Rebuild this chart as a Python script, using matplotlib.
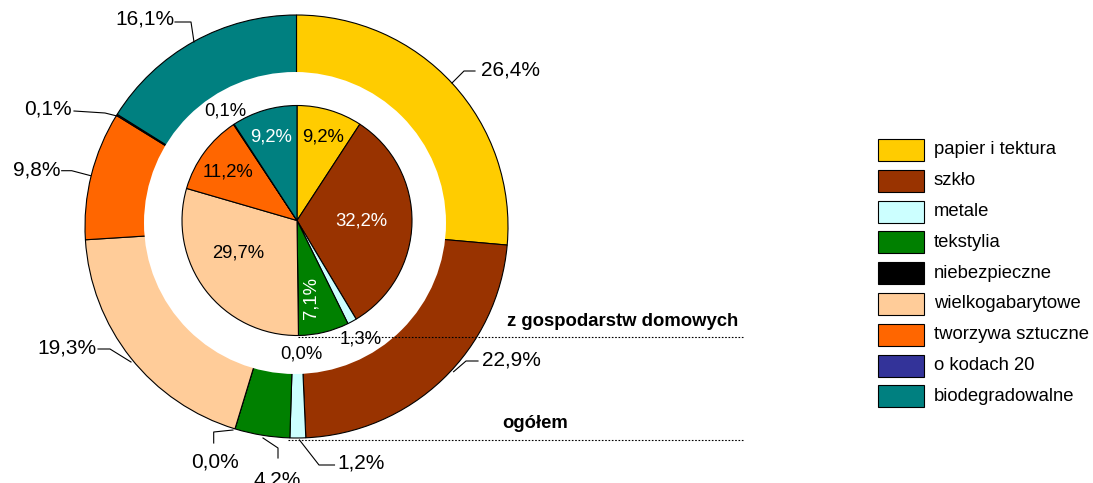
import matplotlib
matplotlib.use('Agg')
import matplotlib.pyplot as plt
from matplotlib.patches import Circle, Rectangle

# ---------------- data ----------------
categories = ['papier i tektura', 'szkło', 'metale', 'tekstylia', 'niebezpieczne',
              'wielkogabarytowe', 'tworzywa sztuczne', 'o kodach 20', 'biodegradowalne']
ogolem = [26.4, 22.9, 1.2, 4.2, 0.0, 19.3, 9.8, 0.1, 16.1]          # outer ring
gospodarstwa = [9.2, 32.2, 1.3, 7.1, 0.0, 29.7, 11.2, 0.1, 9.2]      # inner pie
series_titles = ['z gospodarstw domowych', 'ogółem']
colors = ['#FFCC00', '#993300', '#CCFFFF', '#008000', '#000000',
          '#FFCC99', '#FF6600', '#333399', '#008080']

plt.rcParams['font.family'] = ['Liberation Sans', 'DejaVu Sans']

W, H = 1093, 483
fig = plt.figure(figsize=(W / 100, H / 100), dpi=100)
ax = fig.add_axes([0, 0, 1, 1])


def P(x, y):
    """pixel (from top-left) -> data coords"""
    return (x, H - y)


def fmt(v):
    return f'{v:.1f}'.replace('.', ',') + '%'


edge = dict(edgecolor='black', linewidth=0.8)

# outer ring (ogółem)
ax.pie(ogolem, radius=211.5, center=P(296.5, 226.5), startangle=90,
       counterclock=False, colors=colors, wedgeprops=edge, frame=True)
# hole
ax.add_patch(Circle(P(295, 223), 151, facecolor='white', edgecolor='none'))
# inner pie (z gospodarstw domowych)
ax.pie(gospodarstwa, radius=115, center=P(297, 220.5), startangle=90,
       counterclock=False, colors=colors, wedgeprops=edge, frame=True)

ax.set_aspect('auto')
ax.set_xlim(0, W)
ax.set_ylim(0, H)
ax.axis('off')

# outer labels with leader lines (layout only)
outer_layout = {
    0: ((510, 70), [(475, 71), (464, 71), (452, 83)]),
    1: ((511, 360), [(478, 361), (466, 361), (453.6, 371.7)]),
    2: ((361, 463), [(334.5, 465), (319, 465), (299.5, 440)]),
    3: ((277.5, 480), [(278, 458), (278, 448), (263, 438)]),
    4: ((214.5, 462), [(213.7, 443), (213.7, 432), (233, 430)]),
    5: ((66.5, 348), [(98, 349), (110, 349), (131, 362)]),
    6: ((37, 170), [(61.7, 170.7), (71.7, 170.7), (90.7, 175.7)]),
    7: ((48, 109), [(74, 111), (105, 113), (117, 116)]),
    8: ((144.5, 19), [(175, 22), (191, 22), (194, 42)]),
}
for i, ((tx, ty), path) in outer_layout.items():
    ax.text(*P(tx, ty), fmt(ogolem[i]), ha='center', va='center',
            fontsize=15, color='black', zorder=5)
    xs = [p[0] for p in path]
    ys = [H - p[1] for p in path]
    ax.plot(xs, ys, color='black', lw=0.8, zorder=4)

# inner labels
inner_layout = {
    0: ((323, 137), 'black', 0),
    1: ((361, 221), 'white', 0),
    2: ((361, 339), 'black', 0),
    3: ((310.7, 298), 'white', 90),
    4: ((301, 354), 'black', 0),
    5: ((238, 253), 'black', 0),
    6: ((228, 172), 'black', 0),
    7: ((225, 111), 'black', 0),
    8: ((271.5, 137), 'white', 0),
}
for i, ((tx, ty), c, rot) in inner_layout.items():
    ax.text(*P(tx, ty), fmt(gospodarstwa[i]), ha='center', va='center',
            fontsize=13.3, color=c, rotation=rot, zorder=6)

# series annotations with dotted lines
ax.plot([298, 743], [H - 337, H - 337], color='black', lw=0.8, ls=(0, (1.5, 1.5)), zorder=4)
ax.plot([288, 743], [H - 440, H - 440], color='black', lw=0.8, ls=(0, (1.5, 1.5)), zorder=4)
ax.text(*P(738, 322), series_titles[0], ha='right', va='center',
        fontsize=13.3, fontweight='bold', zorder=5)
ax.text(*P(535, 424), series_titles[1], ha='center', va='center',
        fontsize=13.3, fontweight='bold', zorder=5)

# legend (drawn manually)
lx, ly0, step = 878, 150, 30.8
bw, bh = 46, 22
for i, (cat, col) in enumerate(zip(categories, colors)):
    cy = ly0 + i * step
    ax.add_patch(Rectangle((lx, H - cy - bh / 2), bw, bh, facecolor=col,
                           edgecolor='black', linewidth=0.8, zorder=5))
    ax.text(934, H - cy, cat, ha='left', va='center', fontsize=13.3, zorder=5)

fig.savefig('out.png', dpi=100)
